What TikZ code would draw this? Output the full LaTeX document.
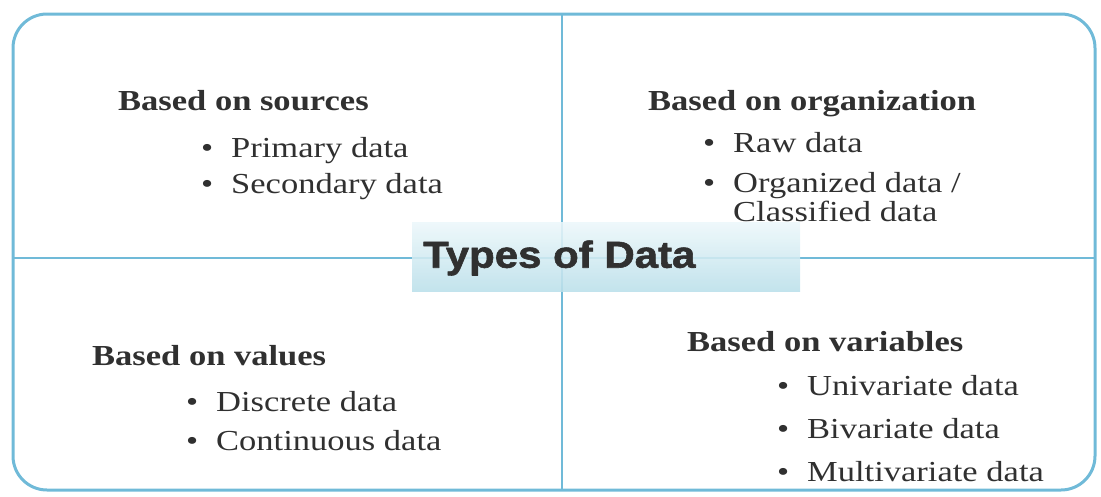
\documentclass[tikz,border=0pt]{standalone}
\usepackage{fontspec}
\setmainfont{Liberation Serif}[FakeStretch=1.19]
\newfontfamily\titlefont{Liberation Sans Bold}[FakeStretch=1.12, FakeBold=1.6]
\definecolor{frameblue}{RGB}{112,186,216}
\definecolor{bandtop}{RGB}{236,247,250}
\definecolor{bandbot}{RGB}{186,223,234}
\definecolor{ink}{RGB}{48,48,48}
\tikzset{
	head/.style={anchor=west, inner sep=0pt, text=ink, text height=20pt, text depth=0pt,
		font=\fontsize{29}{33}\selectfont\bfseries},
	entry/.style={anchor=west, inner sep=0pt, text=ink, text height=20pt, text depth=0pt,
		font=\fontsize{29}{33}\selectfont},
	band/.style={minimum width=388pt, minimum height=69pt, inner sep=0pt,
		top color=bandtop, bottom color=bandbot, fill opacity=0.88},
}
\newcommand\bul{\makebox[30pt][l]{\textbullet}}
\begin{document}
\begin{tikzpicture}[x=1pt, y=-1pt, line join=round, line cap=round]
	\useasboundingbox (0,0) rectangle (1101,496);
	\coordinate (tl) at (13,14); \coordinate (br) at (1095,490);
	\coordinate (vt) at (562,14); \coordinate (vb) at (562,490);
	\coordinate (hl) at (13,258); \coordinate (hr) at (1095,258);
	% quadrant lines and frame
	\draw[frameblue, line width=1.5pt] (vt)--(vb);
	\draw[frameblue, line width=1.5pt] (hl)--(hr);
	\draw[frameblue, line width=3pt, rounded corners=34pt] (tl) rectangle (br);
	% centre band
	\node[band] (band) at (606,257) {};
	\node[anchor=west, inner sep=0pt, text=ink, font=\titlefont\fontsize{37.5}{40}\selectfont] (types) at (423,258) {Types of Data};
	% top left
	\node[head] (src) at (118,100) {Based on sources};
	\node[entry] (src1) at (201,147) {\bul Primary data};
	\node[entry] (src2) at (201,183) {\bul Secondary data};
	% top right
	\node[head] (org) at (648,100) {Based on organization};
	\node[entry] (org1) at (703,142) {\bul Raw data};
	\node[entry] (org2) at (703,182) {\bul Organized data /};
	\node[entry] (org3) at (733,211) {Classified data};
	% bottom left
	\node[head] (val) at (92,355) {Based on values};
	\node[entry] (val1) at (186,401) {\bul Discrete data};
	\node[entry] (val2) at (186,440) {\bul Continuous data};
	% bottom right
	\node[head] (var) at (687,341) {Based on variables};
	\foreach \t [count=\i] in {Univariate data, Bivariate data, Multivariate data}
		\node[entry] (var\i) at (777,{342+43*\i}) {\bul \t};
\end{tikzpicture}
\end{document}
